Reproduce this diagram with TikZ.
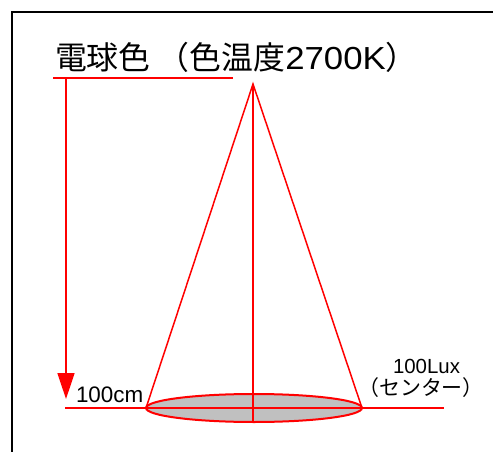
\documentclass[tikz,border=0pt]{standalone}
\usepackage{fontspec}
\usepackage{graphicx}
\setmainfont{Liberation Sans}
\newfontfamily\cjk{Noto Sans CJK JP}
\usetikzlibrary{arrows.meta}
\definecolor{redline}{RGB}{255,0,0}
\definecolor{basegray}{RGB}{192,192,192}
\tikzset{
  frameline/.style={draw=black,line width=2bp},
  redthin/.style={draw=redline,line width=1.5bp},
  txt/.style={inner sep=0pt,outer sep=0pt,text=black},
}
\begin{document}
\begin{tikzpicture}[x=1bp,y=-1bp]
\useasboundingbox (0,0) rectangle (493,452);
\clip (0,0) rectangle (493,452);
% frame
\coordinate (fbl) at (11.5,470);
\coordinate (ftl) at (11.5,12);
\coordinate (ftr) at (510,12);
\draw[frameline] (fbl) -- (ftl) -- (ftr);
% title
\node[txt,anchor=base west] (title) at (55,70)
  {\cjk\fontsize{32}{32}\selectfont 電球色 （色温度\fontspec{Liberation Sans}\scalebox{1.09}[1]{2700K}\cjk ）};
% lines
\coordinate (tl) at (53,78);
\coordinate (tr) at (233,78);
\draw[redthin] (tl) -- (tr);
\coordinate (as) at (66,78);
\coordinate (ae) at (66,399);
\draw[redthin,-{Triangle[width=17bp,length=26bp]},redline] (as) -- (ae);
\coordinate (bl) at (65,408);
\coordinate (br) at (444,408);
\draw[redthin] (bl) -- (br);
% cone
\coordinate (apex) at (253,84);
\coordinate (cl) at (146,408);
\coordinate (cr) at (362,408);
\coordinate (cc) at (254,408);
\coordinate (axb) at (253,422);
\draw[draw=redline,line width=2bp,fill=basegray] (cc) ellipse [x radius=108,y radius=14];
\draw[redthin] (cl) -- (cr);
\draw[redthin] (cl) -- (apex) -- (cr);
\draw[redthin,line width=1.8bp] (apex) -- (axb);
% labels
\node[txt,anchor=base west] (cm) at (76,402) {\fontsize{22.5}{22.5}\selectfont 100cm};
\node[txt,anchor=base west] (lux) at (393,373) {\fontsize{20.5}{20.5}\selectfont 100Lux};
\node[txt,anchor=base] (center) at (421,395) {\cjk\fontsize{21}{21}\selectfont （センター）};
\end{tikzpicture}
\end{document}
